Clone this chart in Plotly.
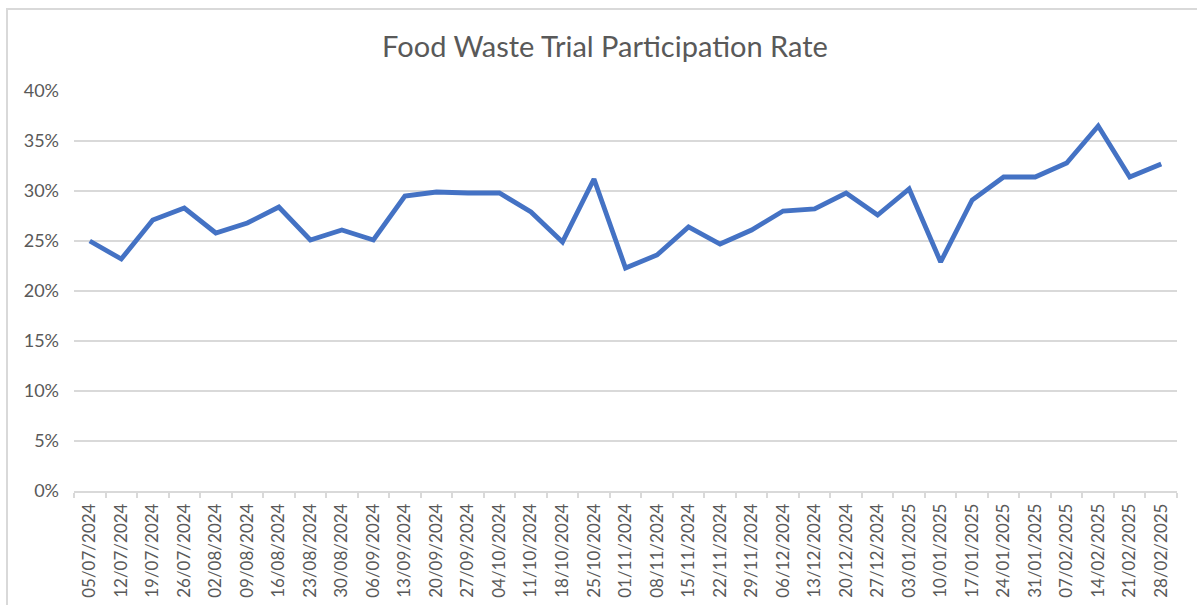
import plotly.graph_objects as go

dates = ["05/07/2024", "12/07/2024", "19/07/2024", "26/07/2024", "02/08/2024", "09/08/2024",
         "16/08/2024", "23/08/2024", "30/08/2024", "06/09/2024", "13/09/2024", "20/09/2024",
         "27/09/2024", "04/10/2024", "11/10/2024", "18/10/2024", "25/10/2024", "01/11/2024",
         "08/11/2024", "15/11/2024", "22/11/2024", "29/11/2024", "06/12/2024", "13/12/2024",
         "20/12/2024", "27/12/2024", "03/01/2025", "10/01/2025", "17/01/2025", "24/01/2025",
         "31/01/2025", "07/02/2025", "14/02/2025", "21/02/2025", "28/02/2025"]

participation_pct = [25.0, 23.2, 27.1, 28.3, 25.8, 26.8, 28.4, 25.1, 26.1, 25.1, 29.5, 29.9,
                     29.8, 29.8, 27.9, 24.9, 31.2, 22.3, 23.6, 26.4, 24.7, 26.1, 28.0, 28.2,
                     29.8, 27.6, 30.2, 22.9, 29.1, 31.4, 31.4, 32.8, 36.5, 31.4, 32.7]

y_ticks = [0, 0.05, 0.10, 0.15, 0.20, 0.25, 0.30, 0.35, 0.40]

rates = [v / 100 for v in participation_pct]

W, H = 1197, 605
L, R, T, B = 74, 20, 91, 114
pw, ph = W - L - R, H - T - B

FONT = "Lato, 'Open Sans', Arial, sans-serif"
GREY_TXT = "#595959"
GRID = "#d9d9d9"

fig = go.Figure()
fig.add_trace(go.Scatter(
    x=dates, y=rates, mode="lines",
    line=dict(color="#4472C4", width=4.8),
    hovertemplate="%{x}: %{y:.1%}<extra></extra>",
    showlegend=False,
))

fig.update_layout(
    width=W, height=H,
    margin=dict(l=L, r=R, t=T, b=B, autoexpand=False),
    paper_bgcolor="white", plot_bgcolor="white",
    font=dict(family=FONT, color=GREY_TXT),
    title=dict(text="Food Waste Trial Participation Rate",
               x=605 / W, xref="container", xanchor="center",
               y=1 - 47 / H, yref="container", yanchor="middle",
               font=dict(family=FONT, size=29, color=GREY_TXT)),
    xaxis=dict(
        type="category", tickangle=-90,
        showgrid=False, showline=True, linecolor=GRID, linewidth=1.5,
        ticks="outside", tickson="boundaries", ticklen=5, tickcolor=GRID, tickwidth=1.5,
        tickfont=dict(family=FONT, size=17, color=GREY_TXT),
        ticklabelstandoff=4,
        range=[-0.5, len(dates) - 0.5],
        fixedrange=True,
    ),
    yaxis=dict(
        range=[0, 0.40], tickvals=y_ticks, tickformat=".0%",
        showgrid=True, gridcolor=GRID, gridwidth=1.5,
        zeroline=False, showline=False, ticks="",
        tickfont=dict(family=FONT, size=18, color=GREY_TXT),
        ticklabelstandoff=14,
        fixedrange=True,
    ),
    shapes=[dict(
        type="rect", xref="paper", yref="paper",
        x0=(7 - L) / pw, x1=(W + 5 - L) / pw,
        y0=-(H + 5 - (T + ph)) / ph, y1=(T + ph - 9) / ph,
        line=dict(color=GRID, width=2), fillcolor="rgba(0,0,0,0)", layer="below",
    )],
)

fig.write_html(
    "out.html",
    config={"displayModeBar": False},
    post_script="document.body.style.margin='0';document.body.style.overflow='hidden';",
)
